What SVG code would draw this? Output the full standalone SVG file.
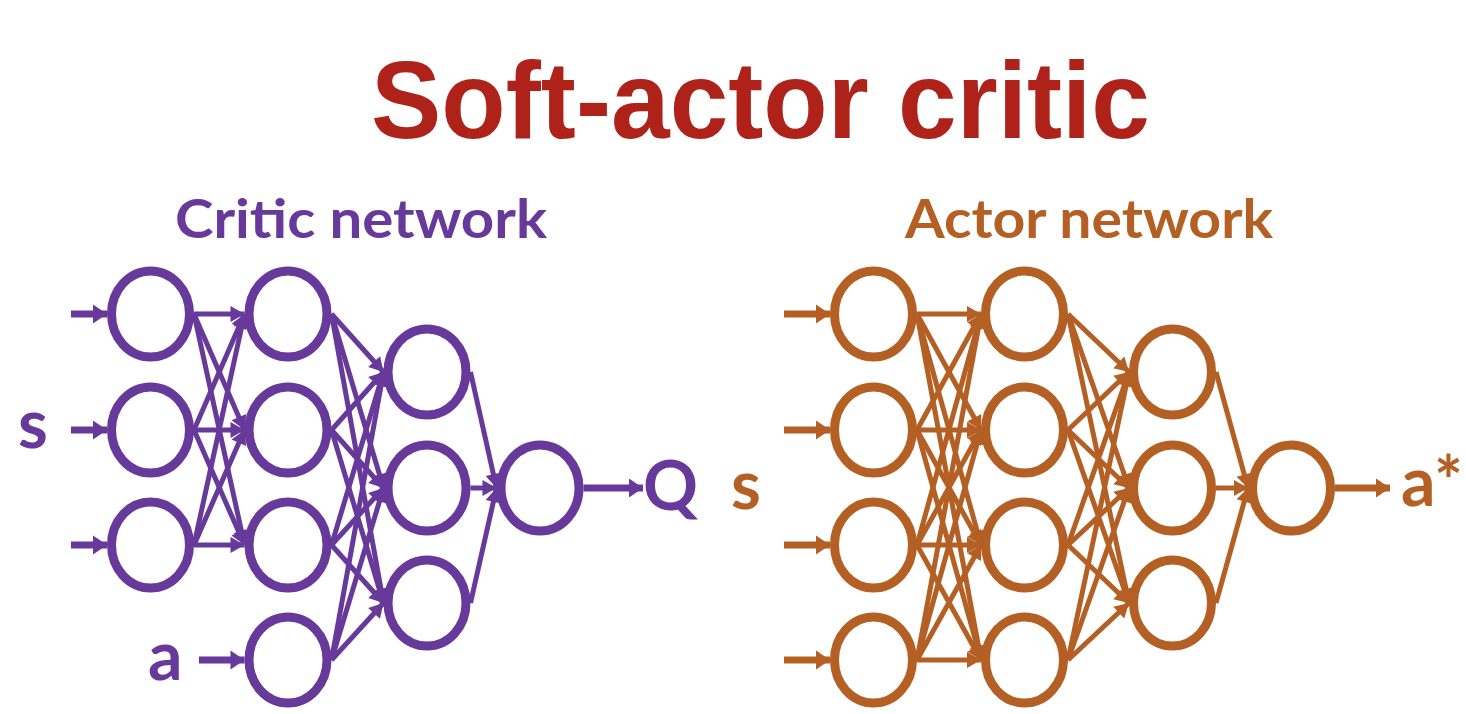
<svg xmlns="http://www.w3.org/2000/svg" width="1466" height="714" viewBox="0 0 1466 714">
<style>
.bg{fill:#ffffff}
.title{font-family:"Liberation Sans",Arial,sans-serif;font-weight:bold;font-size:110px;fill:#AF2219}
.sub{font-family:Lato,"Open Sans","Liberation Sans",sans-serif;font-weight:bold;font-size:53px}
.lbl{font-family:Lato,"Open Sans","Liberation Sans",sans-serif;font-weight:bold;font-size:68px}
.pc{fill:#67399A}
.oc{fill:#B45F24}
.np{fill:#ffffff;stroke:#67399A;stroke-width:9}
.no{fill:#ffffff;stroke:#B45F24;stroke-width:9}
.ep{fill:none;stroke:#67399A;stroke-width:5}
.eo{fill:none;stroke:#B45F24;stroke-width:5}
.ip{fill:none;stroke:#67399A;stroke-width:7}
.io{fill:none;stroke:#B45F24;stroke-width:7}
</style>
<defs>
<marker id="hp" markerUnits="userSpaceOnUse" markerWidth="15" markerHeight="16" refX="14" refY="8" orient="auto" overflow="visible"><path d="M0,0 L14,8 L0,16 z" fill="#67399A"/></marker>
<marker id="ho" markerUnits="userSpaceOnUse" markerWidth="15" markerHeight="16" refX="14" refY="8" orient="auto" overflow="visible"><path d="M0,0 L14,8 L0,16 z" fill="#B45F24"/></marker>
<marker id="Hp" markerUnits="userSpaceOnUse" markerWidth="15" markerHeight="19" refX="14" refY="9.5" orient="auto" overflow="visible"><path d="M0,0 L14,9.5 L0,19 z" fill="#67399A"/></marker>
<marker id="Ho" markerUnits="userSpaceOnUse" markerWidth="15" markerHeight="19" refX="14" refY="9.5" orient="auto" overflow="visible"><path d="M0,0 L14,9.5 L0,19 z" fill="#B45F24"/></marker>
</defs>
<rect class="bg" x="0" y="0" width="1466" height="714"/>

<g id="title"><text class="title" x="371" y="138" textLength="779" lengthAdjust="spacingAndGlyphs">Soft-actor critic</text></g>
<g id="critic-title"><text class="sub pc" x="175" y="238" textLength="372" lengthAdjust="spacingAndGlyphs">Critic network</text></g>
<g id="actor-title"><text class="sub oc" x="905" y="238" textLength="368" lengthAdjust="spacingAndGlyphs">Actor network</text></g>

<!-- Critic network nodes -->
<g id="critic-in-s"><text class="lbl pc" x="18" y="448">s</text></g>
<g id="critic-in-a"><text class="lbl pc" x="148" y="680">a</text></g>
<g id="critic-out-q"><text class="lbl pc" x="643" y="510">Q</text></g>
<g id="c-l1-1"><ellipse class="np" cx="150.5" cy="314" rx="39" ry="43"/></g>
<g id="c-l1-2"><ellipse class="np" cx="150.5" cy="430" rx="39" ry="43"/></g>
<g id="c-l1-3"><ellipse class="np" cx="150.5" cy="545" rx="39" ry="43"/></g>
<g id="c-l2-1"><ellipse class="np" cx="288" cy="314" rx="39" ry="43"/></g>
<g id="c-l2-2"><ellipse class="np" cx="288" cy="430" rx="39" ry="43"/></g>
<g id="c-l2-3"><ellipse class="np" cx="288" cy="545" rx="39" ry="43"/></g>
<g id="c-l2-4"><ellipse class="np" cx="288" cy="660" rx="39" ry="43"/></g>
<g id="c-l3-1"><ellipse class="np" cx="427" cy="372" rx="39" ry="43"/></g>
<g id="c-l3-2"><ellipse class="np" cx="427" cy="488" rx="39" ry="43"/></g>
<g id="c-l3-3"><ellipse class="np" cx="427" cy="603" rx="39" ry="43"/></g>
<g id="c-out"><ellipse class="np" cx="540" cy="488" rx="39" ry="43"/></g>

<!-- Actor network nodes -->
<g id="actor-in-s"><text class="lbl oc" x="731" y="509">s</text></g>
<g id="actor-out-a"><text class="lbl oc" x="1401" y="506">a*</text></g>
<g id="a-l1-1"><ellipse class="no" cx="873.5" cy="314" rx="39" ry="43"/></g>
<g id="a-l1-2"><ellipse class="no" cx="873.5" cy="430" rx="39" ry="43"/></g>
<g id="a-l1-3"><ellipse class="no" cx="873.5" cy="545" rx="39" ry="43"/></g>
<g id="a-l1-4"><ellipse class="no" cx="873.5" cy="660" rx="39" ry="43"/></g>
<g id="a-l2-1"><ellipse class="no" cx="1024.5" cy="314" rx="39" ry="43"/></g>
<g id="a-l2-2"><ellipse class="no" cx="1024.5" cy="430" rx="39" ry="43"/></g>
<g id="a-l2-3"><ellipse class="no" cx="1024.5" cy="545" rx="39" ry="43"/></g>
<g id="a-l2-4"><ellipse class="no" cx="1024.5" cy="660" rx="39" ry="43"/></g>
<g id="a-l3-1"><ellipse class="no" cx="1172.5" cy="372" rx="39" ry="43"/></g>
<g id="a-l3-2"><ellipse class="no" cx="1172.5" cy="488" rx="39" ry="43"/></g>
<g id="a-l3-3"><ellipse class="no" cx="1172.5" cy="603" rx="39" ry="43"/></g>
<g id="a-out"><ellipse class="no" cx="1291.5" cy="488" rx="39" ry="43"/></g>

<g id="connectors">
<!-- critic inputs / output -->
<path class="ip" marker-end="url(#Hp)" d="M71,314 L107,314"/>
<path class="ip" marker-end="url(#Hp)" d="M71,430 L107,430"/>
<path class="ip" marker-end="url(#Hp)" d="M71,545 L107,545"/>
<path class="ip" marker-end="url(#Hp)" d="M199,660 L244.5,660"/>
<path class="ip" marker-end="url(#Hp)" d="M583.5,488 L643,488"/>
<!-- critic L1 -> L2 -->
<path class="ep" marker-end="url(#hp)" d="M194,314 L244.5,314"/>
<path class="ep" marker-end="url(#hp)" d="M194,314 L244.5,430"/>
<path class="ep" marker-end="url(#hp)" d="M194,314 L244.5,545"/>
<path class="ep" marker-end="url(#hp)" d="M194,430 L244.5,314"/>
<path class="ep" marker-end="url(#hp)" d="M194,430 L244.5,430"/>
<path class="ep" marker-end="url(#hp)" d="M194,430 L244.5,545"/>
<path class="ep" marker-end="url(#hp)" d="M194,545 L244.5,314"/>
<path class="ep" marker-end="url(#hp)" d="M194,545 L244.5,430"/>
<path class="ep" marker-end="url(#hp)" d="M194,545 L244.5,545"/>
<!-- critic L2 -> L3 -->
<path class="ep" marker-end="url(#hp)" d="M331.5,314 L383.5,372"/>
<path class="ep" marker-end="url(#hp)" d="M331.5,314 L383.5,488"/>
<path class="ep" marker-end="url(#hp)" d="M331.5,314 L383.5,603"/>
<path class="ep" marker-end="url(#hp)" d="M331.5,430 L383.5,372"/>
<path class="ep" marker-end="url(#hp)" d="M331.5,430 L383.5,488"/>
<path class="ep" marker-end="url(#hp)" d="M331.5,430 L383.5,603"/>
<path class="ep" marker-end="url(#hp)" d="M331.5,545 L383.5,372"/>
<path class="ep" marker-end="url(#hp)" d="M331.5,545 L383.5,488"/>
<path class="ep" marker-end="url(#hp)" d="M331.5,545 L383.5,603"/>
<path class="ep" marker-end="url(#hp)" d="M331.5,660 L383.5,372"/>
<path class="ep" marker-end="url(#hp)" d="M331.5,660 L383.5,488"/>
<path class="ep" marker-end="url(#hp)" d="M331.5,660 L383.5,603"/>
<!-- critic L3 -> out -->
<path class="ep" marker-end="url(#hp)" d="M470.5,372 L496.5,488"/>
<path class="ep" marker-end="url(#hp)" d="M470.5,488 L496.5,488"/>
<path class="ep" marker-end="url(#hp)" d="M470.5,603 L496.5,488"/>

<!-- actor inputs / output -->
<path class="io" marker-end="url(#Ho)" d="M784,314 L830,314"/>
<path class="io" marker-end="url(#Ho)" d="M784,430 L830,430"/>
<path class="io" marker-end="url(#Ho)" d="M784,545 L830,545"/>
<path class="io" marker-end="url(#Ho)" d="M784,660 L830,660"/>
<path class="io" marker-end="url(#Ho)" d="M1335,488 L1390,488"/>
<!-- actor L1 -> L2 -->
<path class="eo" marker-end="url(#ho)" d="M917,314 L981,314"/>
<path class="eo" marker-end="url(#ho)" d="M917,314 L981,430"/>
<path class="eo" marker-end="url(#ho)" d="M917,314 L981,545"/>
<path class="eo" marker-end="url(#ho)" d="M917,314 L981,660"/>
<path class="eo" marker-end="url(#ho)" d="M917,430 L981,314"/>
<path class="eo" marker-end="url(#ho)" d="M917,430 L981,430"/>
<path class="eo" marker-end="url(#ho)" d="M917,430 L981,545"/>
<path class="eo" marker-end="url(#ho)" d="M917,430 L981,660"/>
<path class="eo" marker-end="url(#ho)" d="M917,545 L981,314"/>
<path class="eo" marker-end="url(#ho)" d="M917,545 L981,430"/>
<path class="eo" marker-end="url(#ho)" d="M917,545 L981,545"/>
<path class="eo" marker-end="url(#ho)" d="M917,545 L981,660"/>
<path class="eo" marker-end="url(#ho)" d="M917,660 L981,314"/>
<path class="eo" marker-end="url(#ho)" d="M917,660 L981,430"/>
<path class="eo" marker-end="url(#ho)" d="M917,660 L981,545"/>
<path class="eo" marker-end="url(#ho)" d="M917,660 L981,660"/>
<!-- actor L2 -> L3 -->
<path class="eo" marker-end="url(#ho)" d="M1068,314 L1129,372"/>
<path class="eo" marker-end="url(#ho)" d="M1068,314 L1129,488"/>
<path class="eo" marker-end="url(#ho)" d="M1068,314 L1129,603"/>
<path class="eo" marker-end="url(#ho)" d="M1068,430 L1129,372"/>
<path class="eo" marker-end="url(#ho)" d="M1068,430 L1129,488"/>
<path class="eo" marker-end="url(#ho)" d="M1068,430 L1129,603"/>
<path class="eo" marker-end="url(#ho)" d="M1068,545 L1129,372"/>
<path class="eo" marker-end="url(#ho)" d="M1068,545 L1129,488"/>
<path class="eo" marker-end="url(#ho)" d="M1068,545 L1129,603"/>
<path class="eo" marker-end="url(#ho)" d="M1068,660 L1129,372"/>
<path class="eo" marker-end="url(#ho)" d="M1068,660 L1129,488"/>
<path class="eo" marker-end="url(#ho)" d="M1068,660 L1129,603"/>
<!-- actor L3 -> out -->
<path class="eo" marker-end="url(#ho)" d="M1216,372 L1248,488"/>
<path class="eo" marker-end="url(#ho)" d="M1216,488 L1248,488"/>
<path class="eo" marker-end="url(#ho)" d="M1216,603 L1248,488"/>
</g>
</svg>
